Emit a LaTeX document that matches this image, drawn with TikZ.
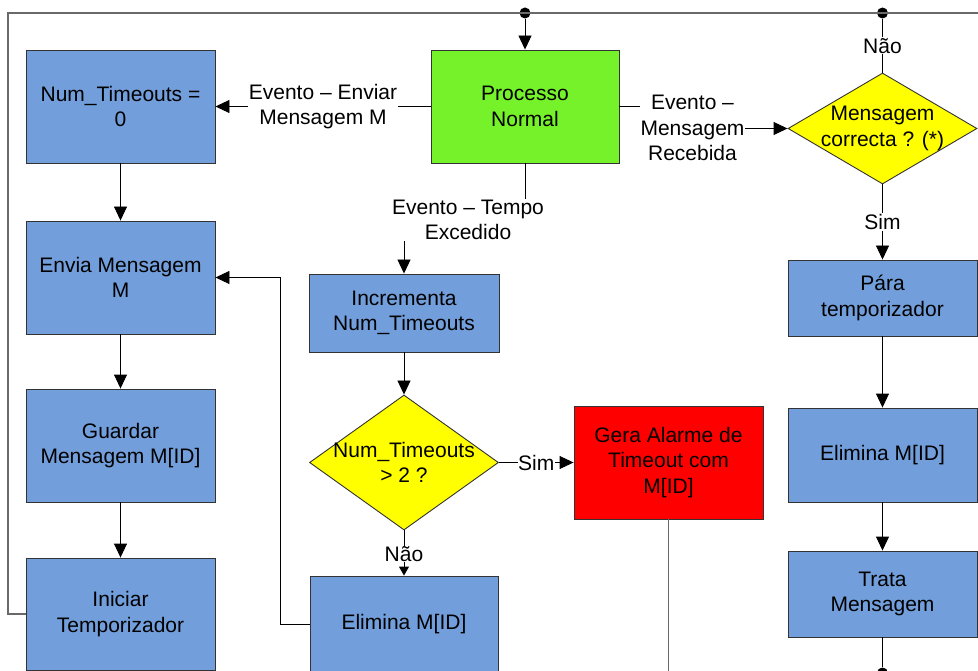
\documentclass[tikz,border=0pt]{standalone}
\usepackage{fontspec}
\setmainfont{Liberation Sans}
\usetikzlibrary{arrows.meta,shapes.geometric}
\definecolor{procblue}{RGB}{114,159,219}
\definecolor{procgreen}{RGB}{118,242,42}
\definecolor{askyellow}{RGB}{255,255,0}
\definecolor{alarmred}{RGB}{255,0,0}
\definecolor{wire}{RGB}{105,105,105}
\begin{document}
\begin{tikzpicture}[x=1pt,y=-1pt,
  font=\fontsize{21}{25.5}\selectfont,
  box/.style={draw=black!80, line width=0.9pt, align=center, inner sep=0pt},
  taskbox/.style={box, fill=procblue},
  decision/.style={diamond, draw=black!80, line width=0.9pt, fill=askyellow, inner sep=0pt},
  flow/.style={draw=black, line width=0.9pt, -{Triangle[length=14pt,width=13pt]}},
  smallflow/.style={draw=black, line width=0.9pt, -{Triangle[length=9pt,width=10pt]}},
  plainline/.style={draw=black, line width=0.9pt},
  wireline/.style={draw=wire, line width=1.1pt},
  tag/.style={fill=white, inner sep=1pt, align=center},
  joint/.style={circle, fill=black, inner sep=0pt, minimum size=11pt}
]
\useasboundingbox (0,0) rectangle (978,671);

% process boxes
\node[taskbox, minimum width=189, minimum height=113] (zero) at (120.5,106.5) {Num\_Timeouts =\\0};
\node[box, fill=procgreen, minimum width=188, minimum height=113] (proc) at (525,106.5) {Processo\\Normal};
\node[taskbox, minimum width=189, minimum height=113] (send) at (120.5,277.5) {Envia Mensagem\\M};
\node[taskbox, minimum width=189, minimum height=113] (store) at (120.5,445.5) {Guardar\\Mensagem M[ID]};
\node[taskbox, minimum width=189, minimum height=112] (start) at (120.5,614) {Iniciar\\Temporizador};
\node[taskbox, minimum width=190, minimum height=78] (incr) at (404,313) {Incrementa\\Num\_Timeouts};
\node[taskbox, minimum width=188, minimum height=96] (dropa) at (404,624) {Elimina M[ID]};
\node[box, fill=alarmred, minimum width=189, minimum height=113] (alarm) at (668.5,462.5) {Gera Alarme de\\Timeout com\\M[ID]};
\node[taskbox, minimum width=189, minimum height=76] (stop) at (882.5,298) {Pára\\temporizador};
\node[taskbox, minimum width=189, minimum height=94] (dropb) at (882.5,455) {Elimina M[ID]};
\node[taskbox, minimum width=189, minimum height=86] (handle) at (882.5,594) {Trata\\Mensagem};

% decisions
\node[decision, minimum width=189, minimum height=135] (over) at (404,462.5) {};
\node[align=center] (overtxt) at (over) {Num\_Timeouts\\> 2 ?};
\node[decision, minimum width=189, minimum height=111] (valid) at (882.5,128.5) {};
\node[align=center] (validtxt) at (valid) {Mensagem\\correcta ? (*)};

% junction points on the return bus
\coordinate (busleft) at (8,13);
\coordinate (busright) at (978,13);
\coordinate (alarmend) at (668.5,672);
\node[joint] (jproc) at (525,13) {};
\node[joint] (jvalid) at (882.5,13) {};
\node[joint] (jend) at (882.5,673) {};

% return bus
\draw[wireline] (start.west) -| (busleft) -- (busright);
\draw[flow] (jproc) -- (proc.north);
\draw[plainline] (jvalid) -- (valid.north) node[midway, tag] (lblno) {Não};

% events leaving the main process
\draw[flow] (proc.west) -- (zero.east) node[midway, tag] (lblsend) {Evento – Enviar\\Mensagem M};
\draw[flow] (proc.east) -- ++(71,0) |- (valid.west);
\node[tag] (lblrecv) at (692.5,128) {Evento –\\Mensagem\\Recebida};
\draw[flow] (proc.south) -- ++(0,57) -| (incr.north);
\node[tag] (lbltime) at (468,220) {Evento – Tempo\\Excedido};

% sending branch
\draw[flow] (zero) -- (send);
\draw[flow] (send) -- (store);
\draw[flow] (store) -- (start);

% timeout branch
\draw[flow] (incr) -- (over);
\draw[flow] (over.east) -- (alarm.west) node[midway, tag, inner sep=0.5pt] (lblyes) {Sim};
\draw[smallflow] (over.south) -- (dropa.north) node[midway, tag, inner sep=0.5pt, yshift=-1] (lblnob) {Não};
\draw[flow] (dropa.west) -- ++(-29,0) |- (send.east);
\draw[wireline] (alarm.south) -- (alarmend);

% receiving branch
\draw[flow] (valid.south) -- (stop.north) node[midway, tag] (lblyesb) {Sim};
\draw[flow] (stop) -- (dropb);
\draw[flow] (dropb) -- (handle);
\draw[plainline] (handle.south) -- (jend);
\end{tikzpicture}
\end{document}
